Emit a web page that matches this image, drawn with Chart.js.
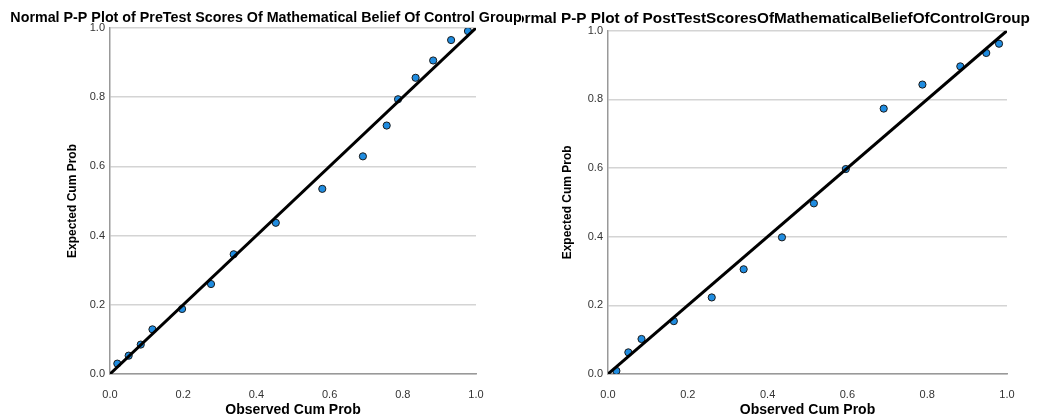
<!DOCTYPE html>
<html>
<head>
<meta charset="utf-8">
<script src="https://cdn.jsdelivr.net/npm/chart.js@4.4.0/dist/chart.umd.min.js"></script>
<style>
  body { margin: 0; background: #fff; }
  .panel { position: absolute; top: 0; height: 419px; overflow: hidden; }
  #leftPanel { left: 0; width: 522px; z-index: 2; }
  #rightPanel { left: 522px; width: 532px; z-index: 1; }
</style>
</head>
<body>
<div class="panel" id="leftPanel"><canvas id="preChart" width="522" height="419"></canvas></div>
<div class="panel" id="rightPanel"><canvas id="postChart" width="532" height="419"></canvas></div>
<script>
// --- DATA ---
const tickLabels = ["0.0", "0.2", "0.4", "0.6", "0.8", "1.0"];
const refLineX = [0, 1];
const refLineY = [0, 1];

// pre-test (control group)
const preTitle = "Normal P-P Plot of PreTest Scores Of Mathematical Belief Of Control Group";
const preObserved = [0.020, 0.051, 0.084, 0.116, 0.197, 0.276, 0.338, 0.453, 0.580, 0.691, 0.756, 0.787, 0.835, 0.883, 0.932, 0.978];
const preExpected = [0.030, 0.053, 0.085, 0.129, 0.188, 0.260, 0.346, 0.437, 0.535, 0.629, 0.718, 0.794, 0.856, 0.906, 0.965, 0.991];

// post-test (control group)
const postTitle = "Normal P-P Plot of PostTestScoresOfMathematicalBeliefOfControlGroup";
const postObserved = [0.021, 0.051, 0.084, 0.165, 0.260, 0.340, 0.436, 0.516, 0.596, 0.691, 0.788, 0.883, 0.948, 0.980];
const postExpected = [0.009, 0.063, 0.102, 0.154, 0.223, 0.305, 0.398, 0.497, 0.597, 0.773, 0.843, 0.896, 0.935, 0.962];

const xTitle = "Observed Cum Prob";
const yTitle = "Expected Cum Prob";

// --- CHART ---
function toPoints(xs, ys) {
    return xs.map((x, i) => ({ x: x, y: ys[i] }));
}

// the titles are wider than their panels, so widen the title box
// (otherwise chart.js squeezes the text to fit) and let the panel clip it
const wideTitle = {
    id: "wideTitle",
    afterLayout(chart, args, opts) {
        const t = chart.titleBlock;
        t.left = opts.center - 320;
        t.right = opts.center + 320;
        t.width = 640;
    }
};

function createPPChart(canvasId, title, observed, expected, lay) {
    const ctx = document.getElementById(canvasId);

    return new Chart(ctx, {
        type: "scatter",
        data: {
            datasets: [{
                type: "line",
                data: toPoints(refLineX, refLineY),
                borderColor: "#000000",
                borderWidth: 3,
                pointRadius: 0,
                order: 0
            }, {
                data: toPoints(observed, expected),
                backgroundColor: "#1f8ce0",
                borderColor: "#1a1a1a",
                borderWidth: 1,
                pointRadius: 3.6,
                order: 1
            }]
        },
        plugins: [wideTitle],
        options: {
            responsive: false,
            animation: false,
            layout: {
                padding: { left: lay.padLeft, right: lay.padRight, top: 0, bottom: 0 }
            },
            plugins: {
                legend: { display: false },
                tooltip: { enabled: false },
                wideTitle: { center: lay.titleCenter },
                title: {
                    display: true,
                    text: title,
                    color: "#000000",
                    font: { family: "'Liberation Sans', Arial, sans-serif", size: lay.titleSize, weight: "bold" },
                    padding: { top: lay.titleTop, bottom: lay.titleBottom }
                }
            },
            scales: {
                x: {
                    type: "linear",
                    min: 0,
                    max: 1,
                    ticks: {
                        stepSize: 0.2,
                        padding: 6,
                        color: "#333333",
                        font: { family: "'Liberation Sans', Arial, sans-serif", size: 11 },
                        callback: (v, i) => tickLabels[i]
                    },
                    grid: { display: false },
                    border: { display: true, color: "#999999", width: 1.5 },
                    title: {
                        display: true,
                        text: xTitle,
                        color: "#000000",
                        font: { family: "'Liberation Sans', Arial, sans-serif", size: 14, weight: "bold" },
                        padding: { top: 0, bottom: 0 }
                    },
                    afterFit: scale => { scale.height = 45; }
                },
                y: {
                    type: "linear",
                    min: 0,
                    max: 1,
                    ticks: {
                        stepSize: 0.2,
                        padding: 5,
                        color: "#333333",
                        font: { family: "'Liberation Sans', Arial, sans-serif", size: 11 },
                        callback: (v, i) => tickLabels[i]
                    },
                    grid: { color: "#d4d4d4", lineWidth: 1.5, drawTicks: false },
                    border: { display: true, color: "#999999", width: 1.5 },
                    title: {
                        display: true,
                        text: yTitle,
                        color: "#000000",
                        font: { family: "'Liberation Sans', Arial, sans-serif", size: 12, weight: "bold" },
                        padding: { top: lay.yTitlePad, bottom: 0 }
                    },
                    afterFit: scale => { scale.width = lay.yWidth; }
                }
            }
        }
    });
}

// --- INIT ---
createPPChart("preChart", preTitle, preObserved, preExpected,
    { padLeft: 56, padRight: 46, titleSize: 14.3, titleTop: 9.9, titleBottom: 0.9,
      yWidth: 54, yTitlePad: 9, titleCenter: 266 });
createPPChart("postChart", postTitle, postObserved, postExpected,
    { padLeft: 5, padRight: 47, titleSize: 15.3, titleTop: 9.3, titleBottom: 3.0,
      yWidth: 81, yTitlePad: 33, titleCenter: 245 });
</script>
</body>
</html>
